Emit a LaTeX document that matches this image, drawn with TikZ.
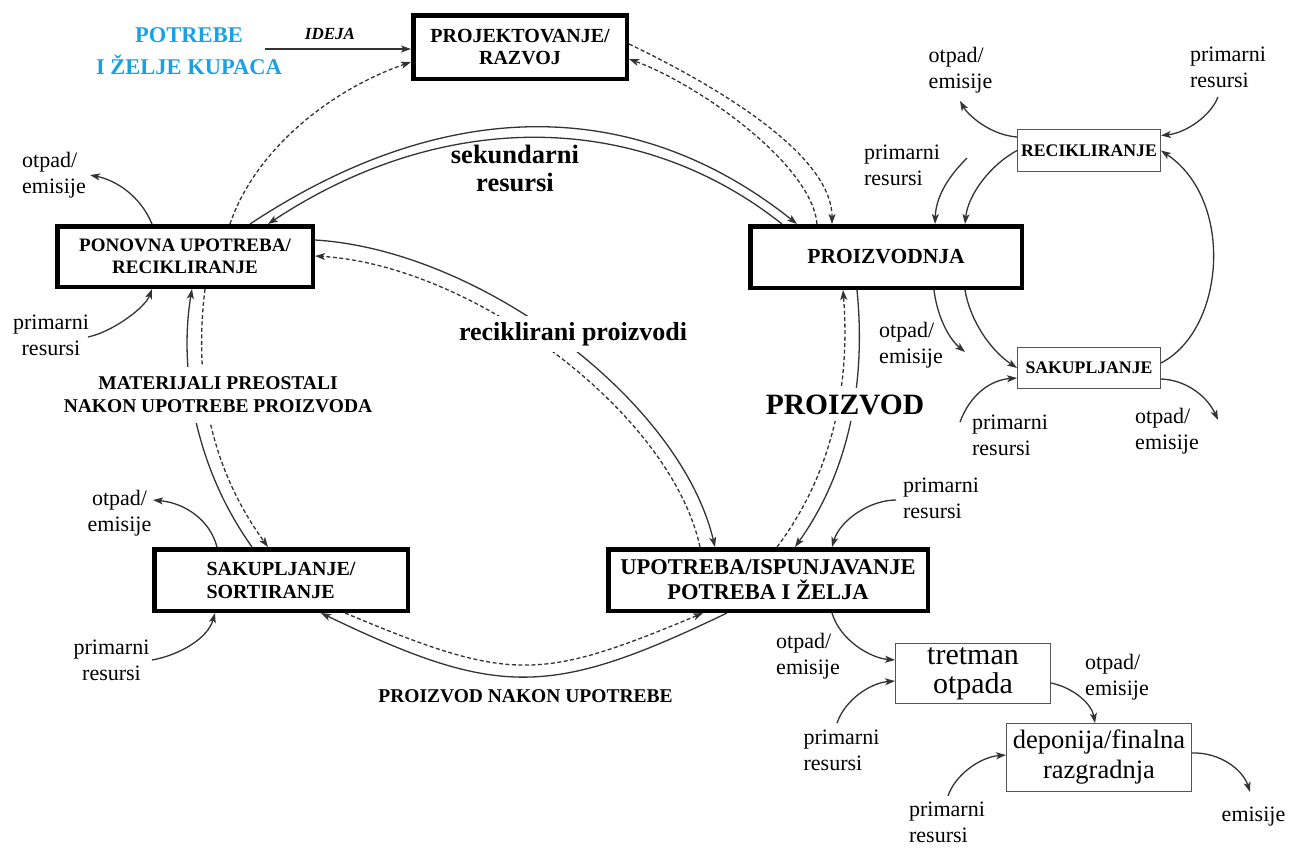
\documentclass[tikz,border=0pt]{standalone}
\usepackage{fontspec}
\setmainfont{Liberation Serif}
\usetikzlibrary{arrows.meta}
\definecolor{linegray}{HTML}{333333}
\definecolor{boxgray}{HTML}{555555}
\definecolor{skyblue}{HTML}{1BA1E2}
\newcommand{\fsz}[2]{\fontsize{#1}{#2}\selectfont}

\begin{document}
\begin{tikzpicture}[x=1pt,y=-1pt,
  mainbox/.style={draw=black, line width=4.5pt, fill=white, inner sep=0pt, align=center},
  subbox/.style={draw=boxgray, line width=1.4pt, fill=white, inner sep=0pt, align=center},
  flow/.style={draw=linegray, line width=1.3pt, -{Stealth[length=10pt,width=7pt,inset=2.5pt]}},
  dashflow/.style={flow, dash pattern=on 4pt off 2.5pt},
  note/.style={inner sep=0pt, font={\fsz{22}{26}}, align=left},
  cutlabel/.style={fill=white, align=center},
]
\useasboundingbox (0,0) rectangle (1294,847);

% ---- main process boxes
\node[mainbox, minimum width=213.5pt, minimum height=63.5pt, font={\bfseries\fsz{20}{22.5}}] (proj) at (520,47) {PROJEKTOVANJE/\\RAZVOJ};
\node[mainbox, minimum width=255.5pt, minimum height=60.5pt, font={\bfseries\fsz{19}{22}}] (ponovna) at (185,256.5) {PONOVNA UPOTREBA/\\RECIKLIRANJE};
\node[mainbox, minimum width=271.5pt, minimum height=61.5pt, font={\bfseries\fsz{21.5}{25}}] (proizvodnja) at (886,257) {PROIZVODNJA};
\node[mainbox, minimum width=253.5pt, minimum height=61.5pt, font={\bfseries\fsz{20}{23}}, align=left] (sortiranje) at (281,580) {SAKUPLJANJE/\\SORTIRANJE};
\node[mainbox, minimum width=319.5pt, minimum height=61.5pt, font={\bfseries\fsz{22.5}{25}}] (upotreba) at (768,580) {UPOTREBA/ISPUNJAVANJE\\POTREBA I ŽELJA};

% ---- secondary boxes
\node[subbox, minimum width=142.5pt, minimum height=41.5pt, font={\bfseries\fsz{17.7}{20}}] (recikl) at (1089,150.5) {RECIKLIRANJE};
\node[subbox, minimum width=142.5pt, minimum height=40.5pt, font={\bfseries\fsz{17.7}{20}}] (sakup) at (1089,368) {SAKUPLJANJE};
\node[subbox, minimum width=154.5pt, minimum height=59.5pt, font={\fsz{30}{29}}] (tretman) at (973,673.5) {tretman\\otpada};
\node[subbox, minimum width=184.5pt, minimum height=67.5pt, font={\fsz{26.5}{30}}] (deponija) at (1099,757.5) {deponija/finalna\\razgradnja};

% ---- free texts
\node[font={\bfseries\fsz{22.5}{32}}, text=skyblue, align=center, inner sep=0pt] (kupci) at (189,51) {POTREBE\\I ŽELJE KUPACA};
\node[font={\bfseries\itshape\fsz{17}{20}}, inner sep=0pt] (ideja) at (330,33.5) {IDEJA};
\node[font={\bfseries\fsz{26.5}{28}}, align=center, inner sep=0pt] (sek) at (515,168) {sekundarni\\resursi};
\node[font={\bfseries\fsz{19.5}{23}}, inner sep=0pt] (nakon) at (525.5,696.5) {PROIZVOD NAKON UPOTREBE};

% ---- side labels
\node[note] (otpad1) at (54,175) {otpad/\\emisije};
\node[note, align=center] (prim1) at (51,335) {primarni\\resursi};
\node[note, align=center] (otpad2) at (119.5,513) {otpad/\\emisije};
\node[note, align=center] (prim2) at (111.5,660) {primarni\\resursi};
\node[note] (otpad3) at (960.5,70) {otpad/\\emisije};
\node[note] (prim3) at (1228,67) {primarni\\resursi};
\node[note] (prim4) at (902,165) {primarni\\resursi};
\node[note] (otpad4) at (911,345) {otpad/\\emisije};
\node[note] (prim5) at (1010,435) {primarni\\resursi};
\node[note] (otpad5) at (1167,431) {otpad/\\emisije};
\node[note] (prim6) at (941,498) {primarni\\resursi};
\node[note] (otpad6) at (808,656) {otpad/\\emisije};
\node[note] (otpad7) at (1117,677) {otpad/\\emisije};
\node[note] (prim7) at (841.5,750) {primarni\\resursi};
\node[note] (prim8) at (947,822) {primarni\\resursi};
\node[note] (emis) at (1253.5,817) {emisije};

% ---- free ends of the small arrows
\coordinate (idejastart) at (265,49);
\coordinate (ca) at (90,175);
\coordinate (cb) at (88,337);
\coordinate (cc) at (153,500);
\coordinate (cd) at (152,660);
\coordinate (ce) at (960,101);
\coordinate (cf) at (1218,97);
\coordinate (ch) at (967,158);
\coordinate (cj) at (965,352);
\coordinate (cl) at (960,422);
\coordinate (cm) at (1218,420);
\coordinate (cn) at (896,500);
\coordinate (cp) at (837,723);
\coordinate (cr) at (948,796);
\coordinate (cs) at (1250,792);

% ---- idea arrow
\draw[flow] (idejastart) -- ([yshift=-2pt]proj.west);

% ---- main life cycle
\draw[dashflow] ([yshift=3pt]proj.east) .. controls (700,78) and (832,150) .. ([xshift=-54pt]proizvodnja.north);
\draw[dashflow] ([xshift=-69pt]proizvodnja.north) .. controls (812,165) and (700,85) .. ([yshift=-12pt]proj.east);
\draw[dashflow] ([xshift=45pt]ponovna.north) .. controls (255,150) and (330,90) .. ([yshift=-15pt]proj.west);
\draw[flow] ([xshift=65pt]ponovna.north) .. controls (445,95) and (635,95) .. ([xshift=-89pt]proizvodnja.north);
\draw[flow] ([xshift=-104pt]proizvodnja.north) .. controls (637,109) and (442,109) .. ([xshift=83pt]ponovna.north);
\draw[flow] ([yshift=16.5pt]ponovna.east) .. controls (480,250) and (680,400) .. ([xshift=-53pt]upotreba.north);
\draw[dashflow] ([xshift=-68pt]upotreba.north) .. controls (670,410) and (470,265) .. ([yshift=0.5pt]ponovna.east);
\draw[flow] ([xshift=-29pt]proizvodnja.south) .. controls (866,380) and (850,470) .. ([xshift=27pt]upotreba.north);
\draw[dashflow] ([xshift=9pt]upotreba.north) .. controls (835,470) and (850,380) .. ([xshift=-43pt]proizvodnja.south);
\draw[flow] ([xshift=-41pt]upotreba.south) .. controls (550,698) and (498,698) .. ([xshift=40pt]sortiranje.south);
\draw[dashflow] ([xshift=64pt]sortiranje.south) .. controls (510,682) and (538,682) .. ([xshift=-65pt]upotreba.south);
\draw[flow] ([xshift=-29pt]sortiranje.north) .. controls (190,460) and (180,360) .. ([xshift=7pt]ponovna.south);
\draw[dashflow] ([xshift=20pt]ponovna.south) .. controls (195,370) and (205,460) .. ([xshift=-13pt]sortiranje.north);

% ---- inputs and outputs
\draw[flow] ([xshift=-33pt]ponovna.north) .. controls (140,195) and (115,180) .. (ca);
\draw[flow] (cb) .. controls (112,332) and (145,308) .. ([xshift=-33pt]ponovna.south);
\draw[flow] ([xshift=-64pt]sortiranje.north) .. controls (210,520) and (185,503) .. (cc);
\draw[flow] (cd) .. controls (180,655) and (208,638) .. ([xshift=-66pt]sortiranje.south);
\draw[flow] ([yshift=13.5pt]recikl.west) .. controls (990,135) and (968,115) .. (ce);
\draw[flow] (cf) .. controls (1210,117) and (1185,133) .. ([yshift=15pt]recikl.east);
\draw[flow] (recikl.west) .. controls (990,165) and (968,195) .. ([xshift=79pt]proizvodnja.north);
\draw[flow] (ch) .. controls (950,175) and (936,195) .. ([xshift=49pt]proizvodnja.north);
\draw[flow] ([yshift=5pt]sakup.east) .. controls (1225,330) and (1235,200) .. (recikl.east);
\draw[flow] ([xshift=48pt]proizvodnja.south) .. controls (937,315) and (948,338) .. (cj);
\draw[flow] ([xshift=79pt]proizvodnja.south) .. controls (970,320) and (990,350) .. (sakup.west);
\draw[flow] (cl) .. controls (970,395) and (990,380) .. ([yshift=-10pt]sakup.west);
\draw[flow] ([yshift=-11pt]sakup.east) .. controls (1188,380) and (1208,398) .. (cm);
\draw[flow] (cn) .. controls (870,500) and (840,520) .. ([xshift=64pt]upotreba.north);
\draw[flow] ([xshift=64pt]upotreba.south) .. controls (840,640) and (870,658) .. ([yshift=13.5pt]tretman.west);
\draw[flow] (cp) .. controls (845,700) and (870,683) .. ([yshift=-7.5pt]tretman.west);
\draw[flow] ([yshift=-9.5pt]tretman.east) .. controls (1075,688) and (1092,705) .. ([xshift=-4pt]deponija.north);
\draw[flow] (cr) .. controls (955,775) and (980,757) .. ([yshift=2.5pt]deponija.west);
\draw[flow] ([yshift=4.5pt]deponija.east) .. controls (1220,752) and (1243,770) .. (cs);

% ---- labels that interrupt the cycle lines
\node[cutlabel, font={\bfseries\fsz{26}{30}}, inner xsep=3pt, inner ysep=6pt] (recprod) at (573,334) {reciklirani proizvodi};
\node[cutlabel, font={\bfseries\fsz{29.5}{32}}, inner xsep=3pt, inner ysep=7pt] (proizvod) at (845,404.5) {PROIZVOD};
\node[cutlabel, font={\bfseries\fsz{19.5}{23}}, inner xsep=2pt, inner ysep=10pt] (materijali) at (218,395) {MATERIJALI PREOSTALI\\NAKON UPOTREBE PROIZVODA};
\end{tikzpicture}
\end{document}
